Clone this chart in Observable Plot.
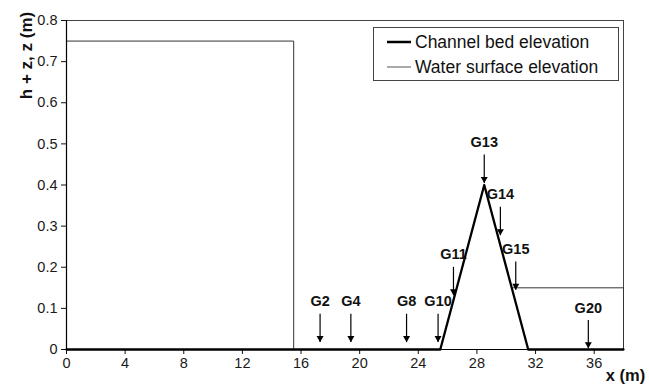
<!DOCTYPE html>
<html>
<head>
<meta charset="utf-8">
<script src="https://cdn.jsdelivr.net/npm/d3@7"></script>
<script src="https://cdn.jsdelivr.net/npm/@observablehq/plot@0.6"></script>
<style>
  html, body { margin: 0; padding: 0; background: #fff; }
  #chart { width: 649px; height: 388px; }
</style>
</head>
<body>
<div id="chart"></div>
<script>
// Channel bed profile (x in m, z in m)
const bedX = [0, 25.5, 28.5, 31.5, 38];
const bedZ = [0, 0, 0.4, 0, 0];

// Water surface profile, two visible pieces
const waterX = [0, 15.5, 15.5, 25.5, 30.4, 38, 38];
const waterH = [0.75, 0.75, 0, 0, 0.15, 0.15, 0];
const waterPart = ["up", "up", "up", "up", "down", "down", "down"];

// Gauges
const gaugeNames = ["G2", "G4", "G8", "G10", "G11", "G13", "G14", "G15", "G20"];
const gaugeX = [17.3, 19.4, 23.2, 25.35, 26.4, 28.5, 29.6, 30.65, 35.6];
const gaugeZ = [0.018, 0.018, 0.018, 0.018, 0.132, 0.405, 0.278, 0.145, 0.003];

const xTicks = [0, 4, 8, 12, 16, 20, 24, 28, 32, 36];
const yTicks = [0, 0.1, 0.2, 0.3, 0.4, 0.5, 0.6, 0.7, 0.8];
const yTickLabels = ["0", "0.1", "0.2", "0.3", "0.4", "0.5", "0.6", "0.7", "0.8"];

const seriesNames = ["Channel bed elevation", "Water surface elevation"];
const axisTitles = {y: "h + z, z (m)", x: "x (m)"};

const bed = bedX.map((x, i) => ({x, z: bedZ[i]}));
const water = waterX.map((x, i) => ({x, h: waterH[i], part: waterPart[i]}));
const gauges = gaugeNames.map((name, i) => ({name, x: gaugeX[i], z: gaugeZ[i], top: gaugeZ[i] + 0.069}));
const yLab = yTicks.map((v, i) => ({v, t: yTickLabels[i]}));

const font = "Arial, 'Liberation Sans', sans-serif";

function legend(index, scales, values, dims) {
  const g = d3.create("svg:g").attr("font-family", font).attr("text-anchor", "start");
  g.append("rect").attr("x", 373.5).attr("y", 27.5).attr("width", 245).attr("height", 53)
    .attr("fill", "#fff").attr("stroke", "#444").attr("stroke-width", 1);
  const rows = [
    {label: seriesNames[0], y: 42, w: 2.5, c: "#000"},
    {label: seriesNames[1], y: 67, w: 1, c: "#555"}
  ];
  for (const r of rows) {
    g.append("line").attr("x1", 387).attr("x2", 411).attr("y1", r.y).attr("y2", r.y)
      .attr("stroke", r.c).attr("stroke-width", r.w);
    g.append("text").attr("x", 415).attr("y", r.y).attr("dy", "0.35em")
      .attr("text-anchor", "start")
      .attr("font-size", 17.5).attr("fill", "#111").text(r.label);
  }
  return g.node();
}

const chart = Plot.plot({
  width: 649,
  height: 388,
  marginLeft: 66,
  marginRight: 26,
  marginTop: 20,
  marginBottom: 39,
  style: {fontFamily: font, fontSize: "15px", color: "#111", background: "#fff"},
  x: {domain: [0, 38], label: null},
  y: {domain: [0, 0.8], label: null},
  marks: [
    Plot.frame({stroke: "#444", strokeWidth: 1}),
    Plot.axisX({ticks: xTicks, tickSize: 5, label: null, tickFormat: () => ""}),
    Plot.axisY({ticks: yTicks, tickSize: 5, label: null, tickFormat: () => ""}),
    Plot.text(xTicks, {x: d => d, frameAnchor: "bottom", dy: 18, fontSize: 14.5, fill: "#1a1a1a", text: d => String(d)}),
    Plot.text(yLab, {y: "v", text: "t", frameAnchor: "left", dx: -9, textAnchor: "end", fontSize: 14.5, fill: "#1a1a1a"}),
    Plot.line(water, {x: "x", y: "h", z: "part", stroke: "#333", strokeWidth: 1}),
    Plot.line(bed, {x: "x", y: "z", stroke: "#000", strokeWidth: 2.3}),
    Plot.ruleY([0], {stroke: "#000", strokeWidth: 1.2}),
    Plot.ruleX([0], {stroke: "#000", strokeWidth: 1.2}),
    Plot.link(gauges, {x1: "x", x2: "x", y1: "top", y2: "z", stroke: "#000", strokeWidth: 1.2}),
    Plot.dot(gauges, {x: "x", y: "z", symbol: "triangle", rotate: 180, r: 2.6, fill: "#000", stroke: null, dy: -4}),
    Plot.text(gauges, {x: "x", y: "top", text: "name", dy: -12, fontWeight: "bold", fontSize: 14.5, fill: "#111"}),
    Plot.text([axisTitles.y], {frameAnchor: "top-left", rotate: -90, dx: -47, dy: 35, textAnchor: "middle", fontWeight: "bold", fontSize: 17, fill: "#111"}),
    Plot.text([axisTitles.x], {frameAnchor: "bottom-right", dx: 2, dy: 31, textAnchor: "middle", fontWeight: "bold", fontSize: 16.5, fill: "#111"}),
    legend
  ]
});
document.getElementById("chart").append(chart);
</script>
</body>
</html>
